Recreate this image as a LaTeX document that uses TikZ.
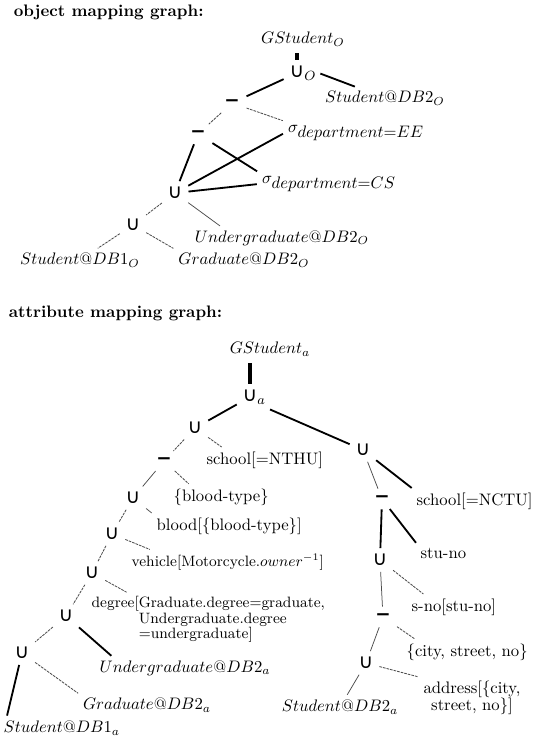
\documentclass[tikz,border=0pt]{standalone}
\usepackage{fontspec}
\usepackage{tikz}
\newfontfamily\symfont{DejaVu Sans}
\newcommand{\lblfont}{\fontsize{10}{10.5}\selectfont\addfontfeatures{LetterSpace=8}}
\newcommand{\smlfont}{\fontsize{9}{9.3}\selectfont\addfontfeatures{LetterSpace=8}}
\tikzset{
  op/.style={inner sep=2.5pt, font=\symfont\fontsize{12}{12}\selectfont},
  minus/.style={inner sep=3pt, font=\symfont\bfseries\fontsize{11}{11}\selectfont},
  lbl/.style={inner sep=2pt, font=\lblfont},
  sml/.style={inner sep=2pt, font=\smlfont},
  bar/.style={line width=2pt, shorten <=2pt, shorten >=1pt},
  strong/.style={line width=1.1pt, shorten <=1pt, shorten >=1pt},
  weak/.style={line width=0.5pt, black!70, dash pattern=on 1.6pt off 0.6pt, shorten <=1pt, shorten >=1pt},
  faint/.style={line width=0.45pt, black!70, shorten <=1pt, shorten >=1pt}
}

\begin{document}
\begin{tikzpicture}[x=0.6pt, y=-0.6pt]
	\useasboundingbox (0,0) rectangle (546,747);
	%%%%% OBJECT MAPPING GRAPH %%%%%
	
	\node[anchor=west, font=\bfseries] (titleo) at (8,12) {object mapping graph:};
	
	\node[lbl] (gso) at (303,39) {$GStudent_O$};
	\node[op] (uo) at (297,73) {∪\rlap{$_O$}};
	\node[lbl] (sdbtwoo) at (385,98) {$Student@DB2_O$};
	\node[minus] (mo1) at (232,103) {−};
	\node[lbl] (sigee) at (356,133) {$\sigma_{\textstyle department{=}EE}$};
	\node[minus] (mo2) at (198,134) {−};
	\node[lbl] (sigcs) at (329,184) {$\sigma_{\textstyle department{=}CS}$};
	\node[op] (uo1) at (175,193) {∪};
	\node[op] (uo2) at (133,225) {∪};
	\node[lbl] (ugdo) at (282,238) {$Undergraduate@DB2_O$};
	\node[lbl] (gdo) at (244,260) {$Graduate@DB2_O$};
	\node[lbl] (sdboneo) at (80,260) {$Student@DB1_O$};
	
	\draw[bar] (gso.south -| uo) -- (uo);
	\draw[strong] (uo) -- (mo1);
	\draw[strong] ([xshift=6pt]uo.east) -- (sdbtwoo);
	\draw[weak] (mo1) -- (mo2);
	\draw[weak] (mo1) -- (sigee.north west);
	\draw[strong] (mo2) -- (uo1);
	\draw[strong] (mo2) -- (sigcs.north west);
	\draw[strong] (uo1) -- (sigee.west);
	\draw[strong] (uo1) -- (sigcs.west);
	\draw[weak] (uo1) -- (uo2);
	\draw[faint] (uo1) -- ([xshift=18pt]ugdo.north west);
	\draw[weak] (uo2) -- (sdboneo);
	\draw[weak] (uo2) -- (gdo.north west);
	
	%%%%% ATTRIBUTE MAPPING GRAPH %%%%%
	
	\node[anchor=west, font=\bfseries] (titlea) at (3,313) {attribute mapping graph:};
	
	\node[lbl] (gsa) at (270,349) {$GStudent_a$};
	\node[op] (ua) at (250,397) {∪\rlap{$_a$}};
	\node[op] (ul) at (195,428) {∪};
	\node[op] (ur) at (363,450) {∪};
	\node[lbl, anchor=west] (nthu) at (203,460) {school[=NTHU]};
	\node[minus] (ml) at (164,461) {−};
	\node[lbl, anchor=west] (bt) at (170,497) {\{blood-type\}};
	\node[op] (u3) at (133,498) {∪};
	\node[lbl, anchor=west] (blood) at (153,526) {blood[\{blood-type\}]};
	\node[op] (u4) at (112,534) {∪};
	\node[sml, anchor=west] (veh) at (128,562) {vehicle[Motorcycle.$owner^{-1}$]};
	\node[op] (u5) at (92,573) {∪};
	\node[sml, anchor=north west, align=left] (deg) at (88,593) {degree[Graduate.degree=graduate,\\\phantom{degree[}Undergraduate.degree\\\phantom{degree[}=undergraduate]};
	\node[op] (u6) at (66,616) {∪};
	\node[lbl] (ugda) at (185,668) {$Undergraduate@DB2_a$};
	\node[op] (u7) at (22,653) {∪};
	\node[lbl] (gda) at (147,705) {$Graduate@DB2_a$};
	\node[lbl, anchor=west] (sdbonea) at (0,728) {$Student@DB1_a$};
	
	\node[minus] (mr) at (382,499) {−};
	\node[lbl, anchor=west] (nctu) at (413,501) {school[=NCTU]};
	\node[lbl, anchor=west] (stuno) at (417,553) {stu-no};
	\node[op] (ur2) at (380,560) {∪};
	\node[lbl, anchor=west] (sno) at (408,607) {s-no[stu-no]};
	\node[minus] (mr2) at (383,617) {−};
	\node[lbl, anchor=west] (city) at (403,652) {\{city, street, no\}};
	\node[op] (ur3) at (366,663) {∪};
	\node[lbl, align=center] (addr) at (472,698) {address[\{city,\\street, no\}]};
	\node[lbl] (sdbtwoa) at (340,707) {$Student@DB2_a$};
	
	\draw[bar] (gsa.south -| ua) -- (ua);
	\draw[strong] (ua) -- (ul);
	\draw[strong] ([xshift=4pt]ua.south east) -- (ur);
	\draw[weak] (ul) -- (ml);
	\draw[weak] (ul) -- ([xshift=12pt]nthu.north west);
	\draw[faint] (ml) -- (u3);
	\draw[weak] (ml) -- ([xshift=12pt]bt.north west);
	\draw[weak] (u3) -- (u4);
	\draw[faint] (u3) -- (blood.north west);
	\draw[weak] (u4) -- (u5);
	\draw[weak] (u4) -- ([xshift=14pt]veh.north west);
	\draw[weak] (u5) -- (u6);
	\draw[weak] (u5) -- ([xshift=24pt]deg.north west);
	\draw[weak] (u6) -- (u7);
	\draw[strong] (u6) -- ([xshift=10pt]ugda.north west);
	\draw[strong] (u7) -- ([xshift=4pt]sdbonea.north west);
	\draw[weak] (u7) -- (gda.north west);
	
	\draw[faint] (ur) -- (mr);
	\draw[strong] (ur) -- (nctu.north west);
	\draw[strong] (mr) -- (ur2);
	\draw[strong] (mr) -- (stuno.north west);
	\draw[weak] (ur2) -- ([xshift=10pt]sno.north west);
	\draw[faint] (ur2) -- (mr2);
	\draw[weak] (mr2) -- ([xshift=8pt]city.north west);
	\draw[faint] (mr2) -- (ur3);
	\draw[weak] (ur3) -- (addr.north west);
	\draw[faint] (ur3) -- (sdbtwoa);
	
	%%%%% END %%%%%
\end{tikzpicture}
\end{document}
